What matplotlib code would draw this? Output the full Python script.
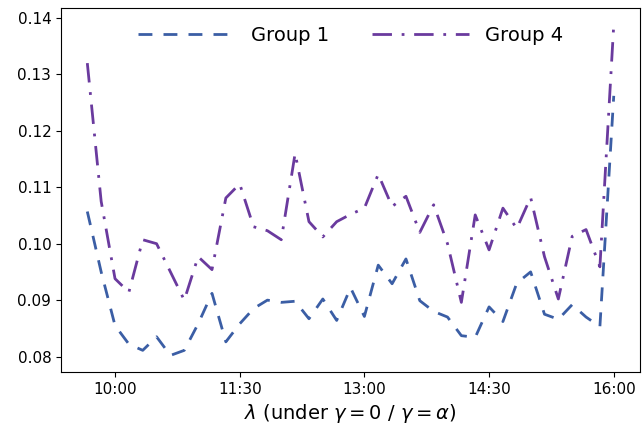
import matplotlib
matplotlib.use("Agg")
import matplotlib.pyplot as plt
import numpy as np

# time of day in minutes, every 10 min from 9:40 to 16:00
minutes = np.arange(580, 961, 10)

group1 = [0.1057, 0.0950, 0.0855, 0.0822, 0.0811, 0.0835, 0.0802, 0.0811, 0.0858, 0.0912,
          0.0826, 0.0858, 0.0885, 0.0900, 0.0896, 0.0898, 0.0867, 0.0902, 0.0864, 0.0922,
          0.0871, 0.0962, 0.0929, 0.0973, 0.0899, 0.0880, 0.0870, 0.0837, 0.0834, 0.0888,
          0.0862, 0.0930, 0.0950, 0.0875, 0.0866, 0.0892, 0.0870, 0.0853, 0.1262]

group4 = [0.1320, 0.1075, 0.0938, 0.0914, 0.1007, 0.1000, 0.0950, 0.0900, 0.0977, 0.0954,
          0.1081, 0.1106, 0.1030, 0.1023, 0.1007, 0.1160, 0.1039, 0.1012, 0.1039, 0.1052,
          0.1063, 0.1123, 0.1066, 0.1084, 0.1020, 0.1069, 0.1000, 0.0896, 0.1051, 0.0989,
          0.1063, 0.1027, 0.1082, 0.0977, 0.0902, 0.1013, 0.1025, 0.0959, 0.1388]

tick_pos = [600, 690, 780, 870, 960]
tick_labels = ["10:00", "11:30", "13:00", "14:30", "16:00"]

fig, ax = plt.subplots(figsize=(6.42, 4.32), dpi=100)
fig.subplots_adjust(left=0.095, right=0.997, top=0.981, bottom=0.139)

ax.plot(minutes, group1, color="#3b5ea5", lw=2, dashes=(5, 4), label="Group 1")
ax.plot(minutes, group4, color="#6a3a9e", lw=2, dashes=(7, 3.5, 1, 3.5), label="Group 4")

ax.set_xticks(tick_pos)
ax.set_xticklabels(tick_labels)
ax.tick_params(labelsize=11)
ax.set_xlabel(r"$\lambda$ (under $\gamma=0$ / $\gamma=\alpha$)", fontsize=14)

ax.legend(loc="upper center", ncol=2, frameon=False, fontsize=14,
          handlelength=5, columnspacing=2.2)

fig.savefig("out.png", dpi=100)
